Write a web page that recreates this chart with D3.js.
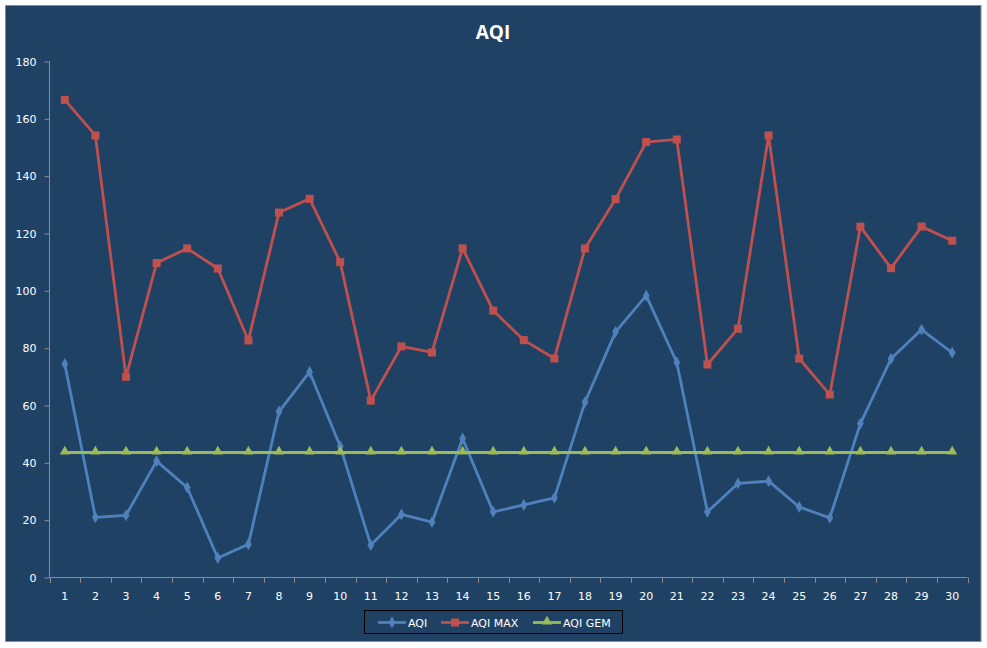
<!DOCTYPE html>
<html><head><meta charset="utf-8">
<script src="https://cdn.jsdelivr.net/npm/d3@7/dist/d3.min.js"></script>
<style>body{margin:0;background:#fff}svg{display:block}</style>
</head><body><svg id="c" width="987" height="648"></svg>
<script>
const categories = d3.range(1, 31).map(String);
const aqi = [74.5,21.0,21.7,40.6,31.4,6.8,11.6,57.9,71.7,45.8,11.3,22.0,19.3,48.5,22.9,25.3,27.8,61.2,85.7,98.3,75.0,22.9,32.8,33.6,24.6,20.8,53.7,76.3,86.5,78.4];
const aqiMax = [166.6,154.2,70.0,109.7,114.8,107.8,82.7,127.3,132.1,110.0,61.7,80.6,78.5,114.8,93.1,82.8,76.4,114.8,132.0,151.9,152.8,74.3,86.8,154.2,76.4,63.8,122.4,107.9,122.4,117.5];
const aqiGem = Array(30).fill(43.6);
const yTicks = [0,20,40,60,80,100,120,140,160,180];
const seriesNames = ["AQI","AQI MAX","AQI GEM"];
const colors = ["#4F81BD","#C0504D","#9BBB59"];

const svg = d3.select("#c");
const bg = "#1F4264";
svg.append("rect").attr("x",5.5).attr("y",5.5).attr("width",975.5).attr("height",636).attr("fill",bg).attr("stroke","#8c8c8c").attr("stroke-width",1);

const x = d3.scaleBand().domain(categories).range([49.5, 967.5]);
const y = d3.scaleLinear().domain([0,180]).range([577.5, 61.5]);
const axisColor = "#8A8A8A";
const font = "DejaVu Sans, Verdana, sans-serif";

// title
svg.append("text").attr("x",493).attr("y",39).attr("text-anchor","middle")
  .attr("fill","#fff").attr("font-family","Open Sans, Arial, sans-serif").attr("font-weight","bold").attr("font-size",19).text("AQI");

// y axis
const yAxis = svg.append("g").attr("transform","translate(49.5,0)")
  .call(d3.axisLeft(y).tickValues(yTicks).tickSize(5).tickPadding(8));
// x axis
const xAxis = svg.append("g").attr("transform","translate(0,577.5)")
  .call(d3.axisBottom(x).tickSize(0).tickPadding(15));
// x ticks between categories
const xTickPos = categories.map(c => x(c)).concat([x.range()[1]]);
svg.append("g").selectAll("line").data(xTickPos).join("line")
  .attr("x1",d=>Math.round(d)+0.5).attr("x2",d=>Math.round(d)+0.5).attr("y1",577.5).attr("y2",583)
  .attr("stroke",axisColor);
[yAxis,xAxis].forEach(g=>{
  g.selectAll("path,line").attr("stroke",axisColor);
  g.selectAll("text").attr("fill","#fff").attr("font-family",font).attr("font-size",11);
});
yAxis.select(".domain").attr("d","M0,61.5V577.5");
xAxis.select(".domain").attr("d","M49.5,0H967.5");

const cx = c => x(c) + x.bandwidth()/2;
const series = [aqi, aqiMax, aqiGem];
const line = d3.line().x((d,i)=>cx(categories[i])).y(d=>y(d));
series.forEach((s,k)=>{
  svg.append("path").datum(s).attr("d",line).attr("fill","none").attr("stroke",colors[k]).attr("stroke-width",2.8).attr("stroke-linejoin","round");
});
const sym = [d3.symbolDiamond, d3.symbolSquare, d3.symbolTriangle];
const sizes = [40, 64, 44];
series.forEach((s,k)=>{
  svg.append("g").selectAll("path").data(s).join("path")
    .attr("transform",(d,i)=>`translate(${cx(categories[i])},${y(d) + (k===2?-1:0)})`)
    .attr("d",d3.symbol().type(sym[k]).size(sizes[k])).attr("fill",colors[k]);
});

// legend
svg.append("rect").attr("x",364.5).attr("y",610.5).attr("width",258).attr("height",23).attr("fill","none").attr("stroke","#000").attr("stroke-width",1);
const legX = [378, 441, 533];
seriesNames.forEach((n,k)=>{
  const g = svg.append("g");
  g.append("line").attr("x1",legX[k]).attr("x2",legX[k]+28).attr("y1",622.5).attr("y2",622.5).attr("stroke",colors[k]).attr("stroke-width",2.8);
  g.append("path").attr("transform",`translate(${legX[k]+14},${622.5 + (k===2?-1:0)})`).attr("d",d3.symbol().type(sym[k]).size(sizes[k])).attr("fill",colors[k]);
  g.append("text").attr("x",legX[k]+30).attr("y",626.5).attr("fill","#fff").attr("font-family",font).attr("font-size",11).text(n);
});
</script></body></html>
